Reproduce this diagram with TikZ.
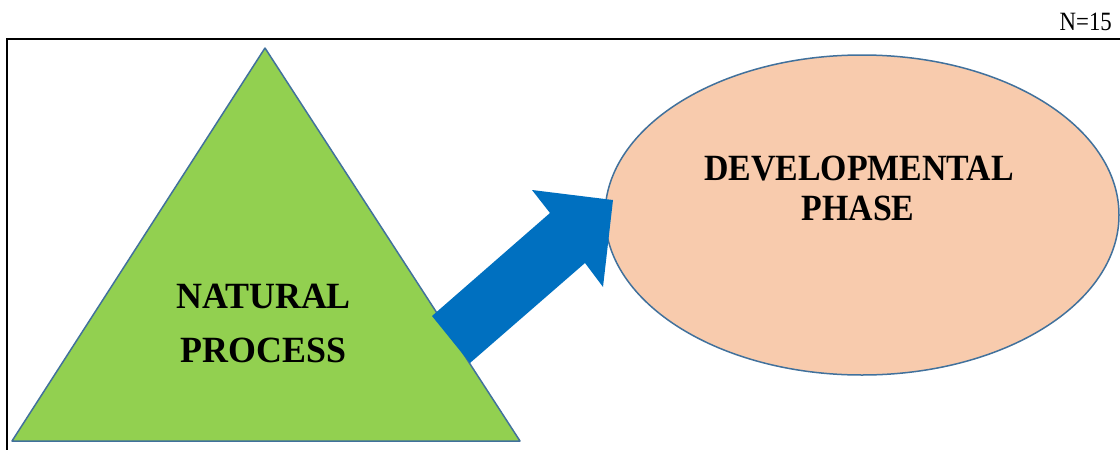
\documentclass[tikz,border=0pt]{standalone}
\usepackage{fontspec}
\setmainfont{Liberation Serif}
\definecolor{trigreen}{HTML}{92D050}
\definecolor{edgeblue}{HTML}{41719C}
\definecolor{arrowblue}{HTML}{0070C0}
\definecolor{peach}{HTML}{F8CBAD}
\newcommand{\bigbold}[1]{\scalebox{0.97}[1]{\fontsize{37}{37}\selectfont\bfseries #1}}
\newcommand{\ovalbold}[1]{\scalebox{0.915}[1]{\fontsize{37}{37}\selectfont\bfseries #1}}
\tikzset{
  shapeedge/.style={draw=edgeblue, line width=1.5pt, line join=round},
  labeltext/.style={inner sep=0pt, anchor=base, text=black},
}
\begin{document}
\begin{tikzpicture}[x=1pt,y=-1pt]
\useasboundingbox[fill=white] (0,0) rectangle (1120,450);
% frame (only top and left edges visible)
\draw[line width=2pt] (7,451) -- (7,39) -- (1121,39);
% N=15
\node[labeltext, anchor=base east] (nlabel) at (1112,30) {\scalebox{0.95}[1.1]{\fontsize{24}{24}\selectfont N=15}};
% triangle
\coordinate (apex) at (265,48);
\coordinate (bl) at (12,441);
\coordinate (br) at (520,441);
\fill[trigreen, shapeedge] (apex) -- (br) -- (bl) -- cycle;
% ellipse
\coordinate (ec) at (862,215);
\fill[peach, shapeedge] (ec) ellipse [x radius=257, y radius=160];
% block arrow
\coordinate (tt) at (432,316);
\coordinate (tb) at (470,363);
\coordinate (jt) at (550,213);
\coordinate (jb) at (585,263);
\coordinate (bt) at (532,190);
\coordinate (bb) at (603,287);
\coordinate (tip) at (613,200);
\fill[arrowblue] (tt) -- (jt) -- (bt) -- (tip) -- (bb) -- (jb) -- (tb) -- cycle;
% labels
\node[labeltext] (nat) at (263.5,308) {\bigbold{NATURAL}};
\node[labeltext] (proc) at (263.5,362) {\bigbold{PROCESS}};
\node[labeltext] (dev) at (859,180) {\ovalbold{DEVELOPMENTAL}};
\node[labeltext] (phase) at (858,220) {\ovalbold{PHASE}};
\end{tikzpicture}
\end{document}
